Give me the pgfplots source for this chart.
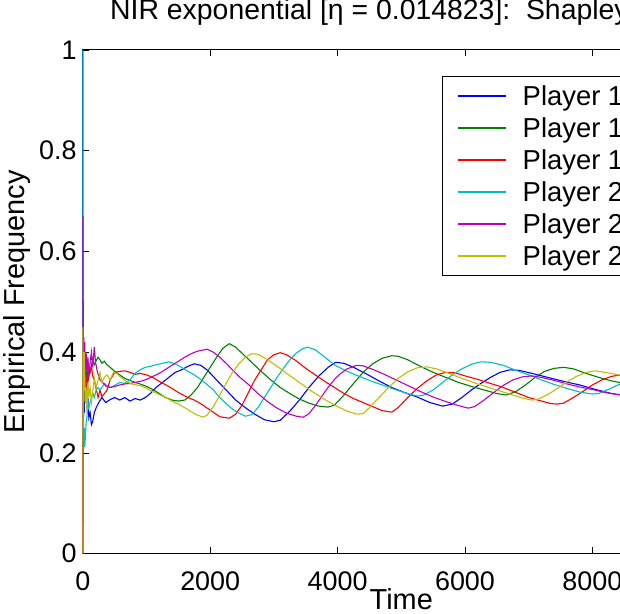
\documentclass[border=0pt]{standalone}
\usepackage{fontspec}
\setmainfont{Liberation Sans}
\usepackage{pgfplots}
\pgfplotsset{compat=1.18}
\definecolor{mblue}{rgb}{0,0,1}
\definecolor{mgreen}{rgb}{0,0.5,0}
\definecolor{mred}{rgb}{1,0,0}
\definecolor{mcyan}{rgb}{0,0.75,0.75}
\definecolor{mmag}{rgb}{0.75,0,0.75}
\definecolor{myel}{rgb}{0.75,0.75,0}
\begin{document}
\begin{tikzpicture}
\useasboundingbox (0,0) rectangle (620bp,614bp);
\begin{axis}[
 at={(82.8bp,60.3bp)}, anchor=south west,
 scale only axis, width=637bp, height=503.7bp,
 xmin=0, xmax=10000, ymin=0, ymax=1,
 xtick={0,2000,4000,6000,8000,10000},
 ytick={0,0.2,0.4,0.6,0.8,1},
 scaled ticks=false,
 /pgf/number format/assume math mode=true,
 /pgf/number format/1000 sep={},
 tick align=inside,
 major tick length=6.5bp,
 axis line style={line width=1bp},
 tick style={black, line width=0.8bp},
 ticklabel style={font=\fontsize{27}{31}\selectfont, inner sep=0pt},
 xticklabel style={anchor=base, yshift=-36.5bp},
 yticklabel style={anchor=east, xshift=-6bp},
 xlabel={Time}, ylabel={Empirical Frequency},
 label style={font=\fontsize{29}{33}\selectfont},
 xlabel style={at={(axis description cs:0.5,-0.1112)}, anchor=base},
 ylabel style={at={(axis description cs:-0.1025,0.5)}, anchor=center},
 title={NIR exponential [η = 0.014823]:\ \ Shapley Game},
 title style={at={(axis description cs:0.0427,1.0477)}, anchor=base west, inner sep=0pt, font=\fontsize{28.5}{33}\selectfont},
 clip=false,
 every axis plot/.append style={line width=1.1bp},
 legend style={at={(axis description cs:0.5634,0.9484)}, anchor=north west,
   draw=black, line width=1bp, fill=white, font=\fontsize{27.5}{32}\selectfont,
   inner xsep=15bp, inner ysep=5bp, row sep=3bp,
   nodes={inner sep=0pt, text height=24bp, text depth=5bp}},
 legend cell align=left,
 legend image code/.code={\draw[#1] (0bp,0bp) -- (48bp,0bp); \path[draw=none] (0bp,0bp) -- (65bp,0bp);},
]
\addplot[mblue] coordinates {(0,1) (2,0.5) (4,0.33) (7,0.4) (10,0.27) (15,0.33) (22,0.28) (30,0.35) (40,0.3) (52,0.33) (65,0.29) (80,0.31) (95,0.27) (115,0.28) (135,0.256) (155,0.262) (180,0.28) (210,0.29) (250,0.3) (300,0.31) (360,0.3) (430,0.306) (500,0.31) (580,0.305) (660,0.31) (740,0.303) (820,0.308) (900,0.305) (980,0.31) (1060,0.318) (1150,0.33) (1250,0.34) (1350,0.35) (1450,0.36) (1550,0.365) (1650,0.372) (1750,0.377) (1850,0.374) (1950,0.365) (2100,0.345) (2250,0.325) (2400,0.305) (2550,0.29) (2700,0.277) (2850,0.266) (3000,0.262) (3100,0.265) (3250,0.283) (3400,0.305) (3550,0.33) (3700,0.352) (3850,0.37) (3970,0.38) (4100,0.378) (4250,0.37) (4450,0.357) (4650,0.343) (4850,0.33) (5050,0.32) (5250,0.311) (5450,0.3) (5650,0.293) (5800,0.297) (5950,0.31) (6100,0.325) (6250,0.338) (6400,0.35) (6550,0.36) (6700,0.365) (6850,0.364) (7050,0.358) (7300,0.35) (7550,0.342) (7800,0.335) (8050,0.326) (8300,0.318) (8550,0.313) (8800,0.31)};
\addlegendentry{Player 1 Strategy 1}
\addplot[mgreen] coordinates {(0,0) (2,0.5) (4,0.33) (7,0.3) (10,0.36) (15,0.3) (22,0.35) (30,0.32) (40,0.37) (52,0.34) (65,0.36) (80,0.35) (95,0.375) (115,0.36) (135,0.37) (155,0.385) (180,0.375) (210,0.383) (240,0.39) (270,0.385) (300,0.378) (340,0.382) (380,0.375) (430,0.37) (500,0.362) (580,0.355) (660,0.348) (740,0.344) (820,0.34) (900,0.337) (1000,0.332) (1100,0.326) (1200,0.318) (1300,0.31) (1400,0.305) (1500,0.303) (1600,0.305) (1700,0.315) (1800,0.33) (1900,0.35) (2000,0.37) (2100,0.39) (2200,0.408) (2300,0.417) (2400,0.41) (2500,0.398) (2650,0.38) (2800,0.362) (2950,0.345) (3100,0.33) (3250,0.318) (3400,0.307) (3550,0.299) (3700,0.293) (3850,0.291) (3950,0.295) (4100,0.315) (4250,0.338) (4400,0.36) (4550,0.377) (4700,0.388) (4850,0.393) (4950,0.392) (5100,0.385) (5300,0.372) (5500,0.36) (5700,0.35) (5900,0.34) (6100,0.332) (6300,0.325) (6500,0.318) (6650,0.315) (6800,0.322) (6950,0.335) (7100,0.35) (7250,0.362) (7400,0.368) (7550,0.37) (7700,0.367) (7900,0.358) (8100,0.35) (8300,0.343) (8550,0.337) (8800,0.333)};
\addlegendentry{Player 1 Strategy 2}
\addplot[mred] coordinates {(0,0) (2,0) (4,0.33) (7,0.3) (10,0.37) (15,0.37) (22,0.37) (30,0.33) (40,0.33) (52,0.33) (65,0.35) (80,0.34) (95,0.355) (115,0.36) (135,0.374) (155,0.353) (180,0.345) (210,0.327) (240,0.31) (270,0.325) (300,0.312) (340,0.318) (380,0.325) (430,0.345) (500,0.36) (580,0.362) (660,0.363) (740,0.36) (820,0.356) (900,0.358) (1000,0.355) (1100,0.35) (1200,0.342) (1350,0.332) (1500,0.32) (1650,0.31) (1750,0.305) (1850,0.298) (2000,0.285) (2150,0.272) (2300,0.269) (2400,0.277) (2500,0.295) (2600,0.32) (2700,0.345) (2800,0.365) (2900,0.385) (3000,0.395) (3100,0.399) (3200,0.395) (3350,0.383) (3500,0.368) (3650,0.355) (3800,0.342) (3950,0.33) (4100,0.318) (4250,0.308) (4400,0.3) (4550,0.292) (4700,0.284) (4850,0.281) (4950,0.29) (5100,0.31) (5250,0.328) (5400,0.343) (5550,0.355) (5700,0.36) (5850,0.359) (6000,0.353) (6200,0.346) (6400,0.338) (6600,0.33) (6800,0.32) (7000,0.31) (7200,0.303) (7350,0.298) (7450,0.297) (7550,0.299) (7700,0.31) (7850,0.322) (8000,0.335) (8150,0.345) (8300,0.352) (8450,0.355) (8600,0.358) (8800,0.36)};
\addlegendentry{Player 1 Strategy 3}
\addplot[mcyan] coordinates {(0,1) (2,0.5) (4,0.33) (7,0.25) (10,0.3) (15,0.23) (22,0.25) (30,0.212) (40,0.23) (52,0.26) (65,0.27) (80,0.3) (95,0.29) (115,0.3) (135,0.31) (155,0.32) (180,0.31) (210,0.325) (240,0.33) (270,0.325) (300,0.33) (340,0.338) (380,0.333) (430,0.33) (500,0.334) (580,0.34) (660,0.338) (740,0.345) (820,0.358) (900,0.365) (980,0.37) (1060,0.372) (1150,0.375) (1250,0.378) (1350,0.381) (1450,0.377) (1550,0.37) (1650,0.362) (1750,0.355) (1850,0.346) (1950,0.336) (2050,0.325) (2150,0.31) (2250,0.298) (2350,0.287) (2450,0.279) (2550,0.273) (2650,0.276) (2750,0.29) (2850,0.31) (2950,0.33) (3050,0.35) (3150,0.368) (3250,0.385) (3350,0.398) (3450,0.407) (3530,0.41) (3650,0.405) (3800,0.39) (3950,0.375) (4100,0.365) (4300,0.354) (4500,0.344) (4700,0.335) (4900,0.326) (5100,0.318) (5250,0.313) (5350,0.315) (5500,0.325) (5650,0.34) (5800,0.355) (5950,0.367) (6100,0.376) (6250,0.381) (6400,0.38) (6600,0.374) (6800,0.364) (7000,0.355) (7200,0.345) (7400,0.336) (7600,0.328) (7800,0.321) (8000,0.317) (8100,0.318) (8250,0.326) (8400,0.335) (8600,0.345) (8800,0.352)};
\addlegendentry{Player 2 Strategy 1}
\addplot[mmag] coordinates {(0,0) (2,0.5) (4,0.67) (7,0.45) (10,0.4) (15,0.43) (22,0.38) (30,0.42) (40,0.36) (52,0.4) (65,0.36) (80,0.39) (95,0.35) (115,0.38) (135,0.4) (155,0.37) (180,0.41) (200,0.38) (230,0.36) (270,0.345) (310,0.34) (360,0.333) (430,0.33) (500,0.332) (580,0.335) (660,0.337) (740,0.338) (820,0.34) (900,0.342) (1000,0.346) (1100,0.352) (1200,0.358) (1300,0.366) (1400,0.374) (1500,0.382) (1600,0.39) (1700,0.397) (1800,0.402) (1950,0.406) (2050,0.4) (2150,0.39) (2250,0.378) (2350,0.365) (2450,0.352) (2600,0.336) (2750,0.318) (2900,0.302) (3050,0.289) (3200,0.279) (3350,0.273) (3460,0.271) (3550,0.278) (3650,0.294) (3750,0.312) (3850,0.33) (3950,0.346) (4050,0.358) (4150,0.367) (4300,0.374) (4400,0.373) (4550,0.366) (4700,0.358) (4900,0.346) (5100,0.334) (5300,0.322) (5500,0.311) (5700,0.302) (5900,0.294) (6050,0.289) (6150,0.292) (6300,0.305) (6450,0.32) (6600,0.334) (6750,0.345) (6900,0.351) (7050,0.353) (7200,0.35) (7400,0.344) (7600,0.337) (7800,0.331) (8000,0.326) (8200,0.32) (8400,0.316) (8600,0.316) (8800,0.318)};
\addlegendentry{Player 2 Strategy 2}
\addplot[myel] coordinates {(0,0) (1,0.45) (2,0.33) (4,0.25) (7,0.38) (10,0.3) (15,0.33) (22,0.4) (30,0.35) (40,0.3) (52,0.33) (65,0.28) (80,0.34) (95,0.31) (115,0.33) (135,0.3) (155,0.32) (180,0.35) (210,0.33) (240,0.345) (270,0.36) (300,0.34) (340,0.35) (380,0.355) (430,0.345) (480,0.36) (530,0.358) (600,0.35) (680,0.342) (760,0.337) (840,0.335) (920,0.333) (1000,0.328) (1100,0.322) (1200,0.316) (1300,0.31) (1400,0.303) (1500,0.297) (1600,0.29) (1700,0.282) (1800,0.275) (1890,0.271) (1950,0.275) (2050,0.292) (2150,0.315) (2250,0.338) (2350,0.36) (2450,0.377) (2550,0.39) (2650,0.397) (2750,0.396) (2900,0.385) (3050,0.372) (3200,0.358) (3400,0.34) (3600,0.322) (3800,0.306) (4000,0.292) (4150,0.283) (4300,0.277) (4400,0.278) (4500,0.29) (4650,0.31) (4800,0.33) (4950,0.348) (5100,0.361) (5250,0.369) (5400,0.371) (5550,0.367) (5750,0.358) (5950,0.348) (6200,0.337) (6450,0.327) (6700,0.317) (6900,0.309) (7050,0.305) (7150,0.307) (7300,0.316) (7450,0.328) (7600,0.341) (7750,0.352) (7900,0.36) (8050,0.363) (8200,0.36) (8400,0.355) (8600,0.352) (8800,0.35)};
\addlegendentry{Player 2 Strategy 3}
\end{axis}
\end{tikzpicture}
\end{document}
